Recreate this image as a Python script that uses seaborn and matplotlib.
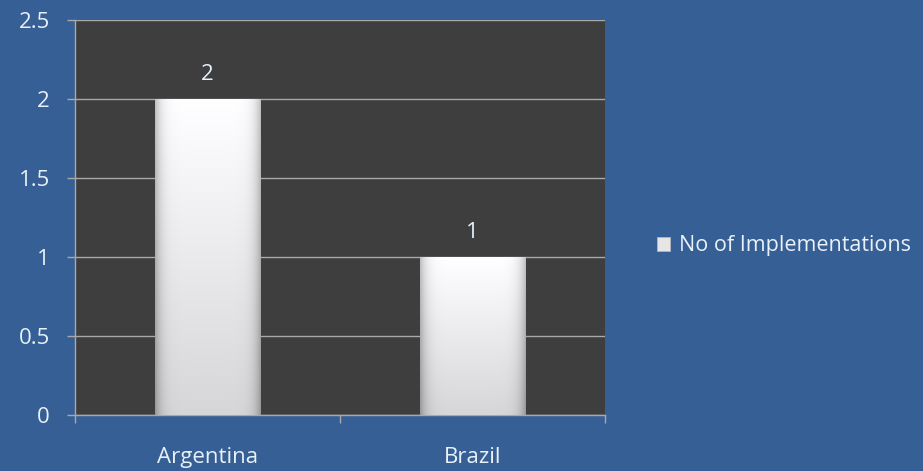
import matplotlib
matplotlib.use("Agg")
import matplotlib.pyplot as plt
import numpy as np
import pandas as pd
import seaborn as sns
from matplotlib.patches import Patch

# data
countries = ['Argentina', 'Brazil']
implementations = [2, 1]
series_name = 'No of Implementations'

bg_blue = '#365f95'
plot_dark = '#3e3e3e'
text_col = '#e8f0f8'
grid_col = '#a9a9a9'

sns.set_style('dark')
plt.rcParams['font.family'] = ['Open Sans', 'DejaVu Sans']

df = pd.DataFrame({'Country': countries, 'Count': implementations})

fig = plt.figure(figsize=(9.23, 4.71), dpi=100, facecolor=bg_blue)
ax = fig.add_axes([75 / 923, 56 / 471, 530 / 923, 395 / 471])
ax.set_facecolor(plot_dark)

sns.barplot(data=df, x='Country', y='Count', width=0.4, color='white', ax=ax,
            linewidth=0, zorder=3)

# gradient fill on bars: white top/centre, greyer edges and bottom
xs = np.linspace(-1, 1, 200)
ys = np.linspace(0, 1, 200)
X, Y = np.meshgrid(xs, ys)
shade = 1.0 - 0.25 * np.abs(X) ** 8 - 0.16 * Y
img = np.dstack([shade, shade, shade * 1.01]).clip(0, 1)
for bar in ax.patches:
    x0, y0 = bar.get_x(), bar.get_y()
    w, h = bar.get_width(), bar.get_height()
    im = ax.imshow(img, extent=[x0, x0 + w, y0, y0 + h], aspect='auto',
                   zorder=3.5, interpolation='bilinear')
    im.set_clip_path(bar)
    bar.set_facecolor('none')

ax.set_xlim(-0.5, 1.5)
ax.set_ylim(0, 2.5)
ax.set_yticks(np.arange(0, 2.51, 0.5))
ax.set_yticklabels(['0', '0.5', '1', '1.5', '2', '2.5'])
ax.grid(axis='y', color=grid_col, linewidth=1, zorder=1)
ax.grid(axis='x', visible=False)
ax.set_xlabel('')
ax.set_ylabel('')

for s in ['top', 'right']:
    ax.spines[s].set_visible(False)
for s in ['left', 'bottom']:
    ax.spines[s].set_visible(True)
    ax.spines[s].set_color(grid_col)
    ax.spines[s].set_linewidth(1)

fs = 16
ax.tick_params(axis='y', colors=text_col, labelsize=fs, length=6, width=1,
               color=grid_col, left=True, pad=12)
ax.tick_params(axis='x', colors=text_col, labelsize=fs, length=0, pad=23)
ax.set_xticks([-0.5, 0.5, 1.5], minor=True)
ax.tick_params(axis='x', which='minor', length=6, width=1, color=grid_col, bottom=True)

for lbl in ax.get_xticklabels() + ax.get_yticklabels():
    lbl.set_color(text_col)

ax.bar_label(ax.containers[0], labels=[str(v) for v in implementations],
             padding=10, color=text_col, fontsize=fs)

handle = Patch(facecolor='#e6e6e6', edgecolor='#bdbdbd', linewidth=0.5)
leg = fig.legend([handle], [series_name], loc='center left',
                 bbox_to_anchor=(638 / 923, 1 - 246 / 471), frameon=False,
                 fontsize=15.5, handlelength=0.6, handleheight=0.6,
                 handletextpad=0.4, labelcolor=text_col)

fig.savefig('out.png', dpi=100, facecolor=bg_blue)
